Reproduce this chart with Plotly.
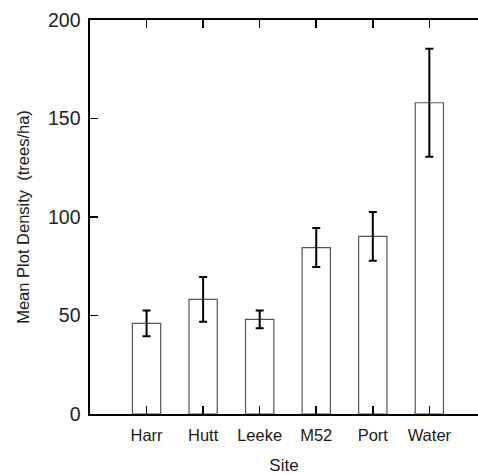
import plotly.graph_objects as go

sites = ["Harr", "Hutt", "Leeke", "M52", "Port", "Water"]
mean_density = [46.0, 58.2, 48.0, 84.5, 90.2, 158.0]
std_error = [6.5, 11.4, 4.5, 9.9, 12.4, 27.4]
y_ticks = [0, 50, 100, 150, 200]

FONT = "Liberation Sans, Arial, Helvetica, sans-serif"

fig = go.Figure()
fig.add_trace(go.Bar(
    x=sites,
    y=mean_density,
    width=0.5,
    marker=dict(color="white", line=dict(color="#555555", width=1.2)),
    error_y=dict(type="data", array=std_error, visible=True,
                 color="black", thickness=2, width=4),
    showlegend=False,
    hoverinfo="skip",
))

fig.update_layout(
    width=478, height=475,
    margin=dict(l=90, r=0, t=20, b=61),
    paper_bgcolor="white", plot_bgcolor="white",
    font=dict(family=FONT, size=16.5, color="#1a1a1a"),
)
fig.update_xaxes(
    range=[-1, 5.86],
    showline=True, linecolor="black", linewidth=1.6,
    mirror="allticks",
    ticks="inside", ticklen=8, tickwidth=1.6, tickcolor="black",
    tickfont=dict(size=16.5),
    ticklabelstandoff=6,
    showgrid=False, zeroline=False,
    title=dict(text="Site", font=dict(size=17), standoff=20),
)
fig.update_yaxes(
    range=[0, 200],
    tickvals=y_ticks,
    showline=True, linecolor="black", linewidth=1.6,
    ticks="inside", ticklen=8, tickwidth=1.6, tickcolor="black",
    tickfont=dict(size=19.5, color="#222222"),
    ticklabelstandoff=4,
    showgrid=False, zeroline=False,
    title=dict(text="Mean Plot Density  (trees/ha)", font=dict(size=16.5), standoff=14),
)

fig.write_html(
    "out.html",
    config={"displayModeBar": False, "staticPlot": True},
    post_script="document.body.style.margin='0';document.body.style.overflow='hidden';",
)
